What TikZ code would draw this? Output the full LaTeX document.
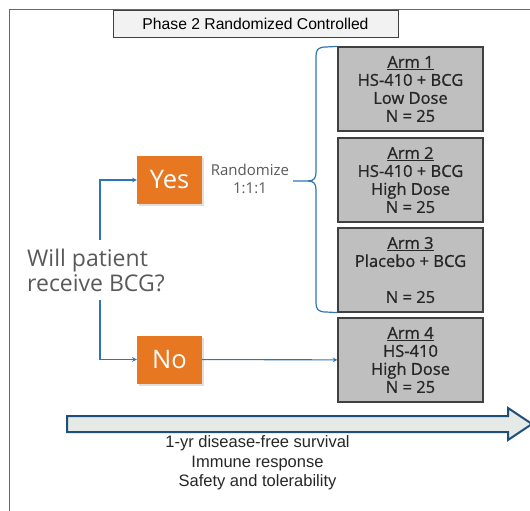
\documentclass[tikz,border=0pt]{standalone}
\usepackage{fontspec}
\setmainfont{Open Sans}
\newfontfamily\arialfont{Liberation Sans}
\newfontfamily\armfont{Open Sans}[FakeBold=0.8]
\usetikzlibrary{positioning,arrows.meta,shadows}

\definecolor{frameblue}{HTML}{2E75B6}
\definecolor{arrowblue}{HTML}{1F4E79}
\definecolor{armgray}{HTML}{BFBFBF}
\definecolor{edgegray}{HTML}{404040}
\definecolor{choiceorange}{HTML}{E87722}
\definecolor{textgray}{HTML}{595959}
\definecolor{shaftgray}{HTML}{E6EAE7}

\tikzset{
  armbox/.style={draw=edgegray, line width=1.2pt, fill=armgray, minimum width=145pt,
    minimum height=84pt, align=center, inner sep=0pt, text=black!85,
    font=\armfont\fontsize{16.5}{18}\selectfont},
  choice/.style={fill=choiceorange, minimum width=65pt, minimum height=48pt, text=white,
    inner sep=0pt, font=\fontsize{25.5}{28}\selectfont,
    drop shadow={shadow xshift=2pt, shadow yshift=-2pt, opacity=.25}},
  link/.style={-stealth, frameblue, line width=1.1pt},
}

\begin{document}
\begin{tikzpicture}[x=1pt, y=-1pt]
    \useasboundingbox (0, 0) rectangle (530, 511);
    \draw[frameblue, line width=1pt](9, 530) -- (9, 10) -- (545, 10);

    \node[draw=edgegray, fill=black!5, minimum width=285pt, minimum height=27pt,
      font=\arialfont\fontsize{15.7}{18}\selectfont] (title) at(255.5, 23.5){Phase 2 Randomized Controlled};

    % treatment arms
    \node[armbox] (arm1) at(410.5, 89){\underline{Arm 1}\\HS-410 + BCG\\Low Dose\\N = 25};
    \node[armbox] (arm2) at(410.5, 180){\underline{Arm 2}\\HS-410 + BCG\\High Dose\\N = 25};
    \node[armbox] (arm3) at(410.5, 270){\underline{Arm 3}\\Placebo + BCG\\\mbox{}\\N = 25};
    \node[armbox] (arm4) at(410.5, 360){\underline{Arm 4}\\HS-410\\High Dose\\N = 25};

    \node[choice] (yes) at(169.5, 180){Yes};
    \node[choice] (no) at(169.5, 359.5){No};

    \node[anchor=west, align=left, text=textgray, inner sep=0pt,
      font=\fontsize{23}{25}\selectfont] (ask) at(27, 270){Will patient\\receive BCG?};
    \coordinate (askup) at(100, 240);
    \coordinate (askdown) at(100, 300);
    \draw[link](askup) |- (yes.west);
    \draw[link](askdown) |- (no.west);
    \draw[link](no) -- (arm4);

    \node[align=center, text=textgray, inner sep=0pt,
      font=\fontsize{15}{18}\selectfont] (rand) at(250, 179){Randomize\\1:1:1};

    % brace
    \coordinate (tip) at(293, 181);
    \draw[frameblue, line width=1.2pt](tip) -- (308, 181)
      .. controls (314, 181) and (316, 178) .. (316, 172) -- (316, 56)
      .. controls (316, 50) and (318, 47) .. (326, 47) -- (arm1.north west);
    \draw[frameblue, line width=1.2pt](308, 181)
      .. controls (314, 181) and (316, 184) .. (316, 190) -- (316, 303)
      .. controls (316, 309) and (318, 312) .. (326, 312) -- (arm3.south west);

    % time line
    \draw[arrowblue, fill=shaftgray, line width=2pt](67, 416) -- (508, 416) -- (508, 408)
      -- (532, 424) -- (508, 440) -- (508, 432) -- (67, 432) -- cycle;

    \node[align=center, inner sep=0pt, text=black!85,
      font=\arialfont\fontsize{16.5}{19.5}\selectfont] (outcomes) at(257.5, 463)
      {1-yr disease-free survival\\Immune response\\Safety and tolerability};
\end{tikzpicture}
\end{document}
